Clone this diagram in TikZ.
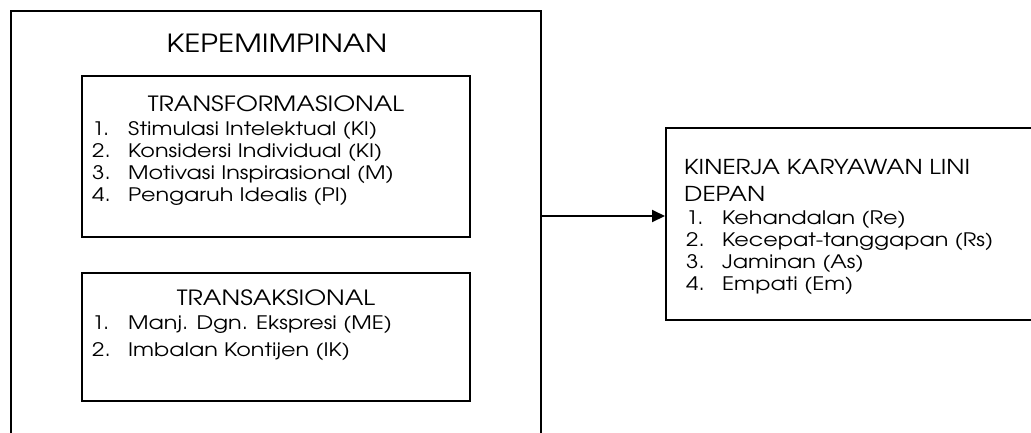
\documentclass[tikz,border=0pt]{standalone}
\usepackage{fontspec}
\setmainfont[FakeStretch=1.2]{TeX Gyre Adventor}
\usetikzlibrary{arrows.meta,shadows}
\begin{document}
\begin{tikzpicture}[x=1pt,y=-1pt,
  outerline/.style={line width=2pt,black},
  innerbox/.style={draw=black,line width=1.5pt,fill=white,inner sep=0pt,anchor=north west,
    drop shadow={shadow xshift=1pt,shadow yshift=-1.2pt,fill=gray!70,opacity=1}},
  kinbox/.style={draw=black,line width=2pt,fill=white,inner sep=0pt,anchor=north west},
  bigtitle/.style={anchor=base,inner sep=0pt,font=\fontsize{25}{29}\selectfont},
  subtitle/.style={anchor=base,inner sep=0pt,font=\fontsize{21}{25}\selectfont},
  num/.style={anchor=base west,inner sep=0pt,font=\fontsize{18.6}{22}\selectfont},
  item/.style={anchor=base west,inner sep=0pt,font=\fontsize{18.6}{22}\selectfont},
  headline/.style={anchor=base west,inner sep=0pt,font=\fontsize{20.5}{25}\selectfont},
  conn/.style={line width=2pt,-{Triangle[length=13pt,width=12pt]}}]
\useasboundingbox (0,0) rectangle (1031,432);
\begin{scope}
\clip (0,0) rectangle (1031,432);
% outer leadership frame (open at bottom)
\coordinate (oBL) at (11,440);
\coordinate (oTL) at (11,11);
\coordinate (oTR) at (541,11);
\coordinate (oBR) at (541,440);
\draw[outerline] (oBL) -- (oTL) -- (oTR) -- (oBR);
\node[bigtitle] (kep) at (277,52) {KEPEMIMPINAN};
% transformational box
\node[innerbox,minimum width=388pt,minimum height=161pt] (tf) at (81,75) {};
\node[subtitle] (tft) at (276,111) {TRANSFORMASIONAL};
\node[num] (tfn1) at (92,135) {1.};  \node[item] (tfi1) at (128,135) {Stimulasi Intelektual (KI)};
\node[num] (tfn2) at (92,157) {2.};  \node[item] (tfi2) at (128,157) {Konsidersi Individual (KI)};
\node[num] (tfn3) at (92,179) {3.};  \node[item] (tfi3) at (128,179) {Motivasi Inspirasional (M)};
\node[num] (tfn4) at (92,201) {4.};  \node[item] (tfi4) at (128,201) {Pengaruh Idealis (PI)};
% transactional box
\node[innerbox,minimum width=388pt,minimum height=128pt] (ts) at (81,272) {};
\node[subtitle] (tst) at (276,305) {TRANSAKSIONAL};
\node[num] (tsn1) at (92,329) {1.};  \node[item] (tsi1) at (128,329) {Manj. Dgn. Ekspresi (ME)};
\node[num] (tsn2) at (92,356) {2.};  \node[item] (tsi2) at (128,356) {Imbalan Kontijen (IK)};
% performance box
\node[kinbox,minimum width=380pt,minimum height=192pt] (kin) at (665,127) {};
\node[headline] (kint1) at (684,174) {KINERJA KARYAWAN LINI};
\node[headline] (kint2) at (684,201) {DEPAN};
\node[num] (kn1) at (686,224) {1.};  \node[item] (ki1) at (722,224) {Kehandalan (Re)};
\node[num] (kn2) at (686,246) {2.};  \node[item] (ki2) at (722,246) {Kecepat-tanggapan (Rs)};
\node[num] (kn3) at (686,268) {3.};  \node[item] (ki3) at (722,268) {Jaminan (As)};
\node[num] (kn4) at (686,290) {4.};  \node[item] (ki4) at (722,290) {Empati (Em)};
% connector
\coordinate (aS) at (541,216);
\draw[conn] (aS) -- (kin.west |- aS);
\end{scope}
\end{tikzpicture}
\end{document}
